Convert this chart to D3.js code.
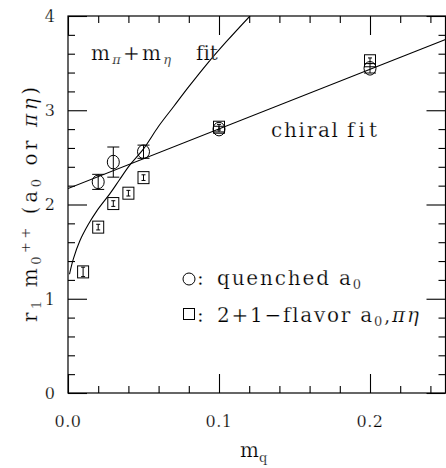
<!DOCTYPE html>
<html>
<head>
<meta charset="utf-8">
<script src="https://cdn.jsdelivr.net/npm/d3@7"></script>
<style>
html,body{margin:0;padding:0;background:#fff;}
svg{display:block;}
text{font-family:"DejaVu Serif",serif;fill:#000;stroke:#fff;stroke-width:0.25px;font-variant-ligatures:none;}
.gr{font-style:italic;}
</style>
</head>
<body>
<div id="chart"></div>
<script>
// ---- data ----
const quenchedX   = [0.02, 0.03, 0.05, 0.10, 0.20];
const quenchedY   = [2.24, 2.45, 2.56, 2.80, 3.445];
const quenchedErr = [0.08, 0.16, 0.07, 0.03, 0.05];

const flavorX   = [0.01, 0.02, 0.03, 0.04, 0.05, 0.10, 0.20];
const flavorY   = [1.285, 1.76, 2.01, 2.12, 2.285, 2.82, 3.525];
const flavorErr = [0.05, 0.03, 0.03, 0.03, 0.03, 0.03, 0.03];

const chiralFitX = [0.0, 0.25];
const chiralFitY = [2.17, 3.75];

const mesonFitX = [0.001, 0.0035, 0.008, 0.0135, 0.019, 0.028, 0.034, 0.041, 0.05, 0.06, 0.07, 0.08, 0.092, 0.105, 0.1205];
const mesonFitY = [1.26, 1.42, 1.62, 1.79, 1.93, 2.12, 2.26, 2.42, 2.59, 2.83, 3.04, 3.25, 3.49, 3.73, 4.0];

const xTickLabels = ["0.0", "0.1", "0.2"];
const xTickValues = [0, 0.1, 0.2];
const yTickValues = [0, 1, 2, 3, 4];

// ---- layout ----
const W = 446, H = 468;
const L = 68, R = 445.5, T = 16, B = 393;

const x = d3.scaleLinear().domain([0, 0.25]).range([L, R]);
const y = d3.scaleLinear().domain([0, 4]).range([B, T]);

const svg = d3.select("#chart").append("svg").attr("width", W).attr("height", H);

svg.append("defs").append("clipPath").attr("id", "clip")
  .append("rect").attr("x", L).attr("y", T).attr("width", R - L).attr("height", B - T);

svg.append("rect").attr("x", L).attr("y", T).attr("width", R - L).attr("height", B - T)
  .attr("fill", "none").attr("stroke", "#000").attr("stroke-width", 1.2);

const majorLen = 19, minorLen = 7;
const xMinor = d3.range(0, 0.2501, 0.02).filter(v => !xTickValues.some(m => Math.abs(m - v) < 1e-9));
const yMinor = d3.range(0, 4.001, 0.2).filter(v => !yTickValues.some(m => Math.abs(m - v) < 1e-9));

function addAxis(gen, tx, ty) {
  const g = svg.append("g").attr("transform", `translate(${tx},${ty})`).call(gen);
  g.select(".domain").remove();
  g.selectAll("line").attr("stroke", "#000").attr("stroke-width", 1.1);
  return g;
}
addAxis(d3.axisTop(x).tickValues(xTickValues).tickSize(majorLen).tickFormat(""), 0, B);
addAxis(d3.axisTop(x).tickValues(xMinor).tickSize(minorLen).tickFormat(""), 0, B);
addAxis(d3.axisBottom(x).tickValues(xTickValues).tickSize(majorLen).tickFormat(""), 0, T);
addAxis(d3.axisBottom(x).tickValues(xMinor).tickSize(minorLen).tickFormat(""), 0, T);
addAxis(d3.axisRight(y).tickValues(yTickValues).tickSize(majorLen).tickFormat(""), L, 0);
addAxis(d3.axisRight(y).tickValues(yMinor).tickSize(minorLen).tickFormat(""), L, 0);
addAxis(d3.axisLeft(y).tickValues(yTickValues).tickSize(majorLen).tickFormat(""), R, 0);
addAxis(d3.axisLeft(y).tickValues(yMinor).tickSize(minorLen).tickFormat(""), R, 0);

svg.selectAll(".xl").data(xTickValues).enter().append("text")
  .attr("x", d => x(d)).attr("y", 427).attr("text-anchor", "middle")
  .attr("font-size", 16).attr("letter-spacing", "0.5px").text((d, i) => xTickLabels[i]);
svg.selectAll(".yl").data(yTickValues).enter().append("text")
  .attr("x", 55).attr("y", d => y(d)).attr("dy", "0.36em").attr("text-anchor", "end")
  .attr("font-size", 16).text(d => d);

const plot = svg.append("g").attr("clip-path", "url(#clip)");

const chiral = chiralFitX.map((v, i) => [v, chiralFitY[i]]);
const meson = mesonFitX.map((v, i) => [v, mesonFitY[i]]);
const line = d3.line().x(d => x(d[0])).y(d => y(d[1]));
plot.append("path").datum(chiral).attr("d", line).attr("fill", "none").attr("stroke", "#000").attr("stroke-width", 1.1);
plot.append("path").datum(meson).attr("d", line.curve(d3.curveCatmullRom)).attr("fill", "none").attr("stroke", "#000").attr("stroke-width", 1.1);

const qData = quenchedX.map((v, i) => ({x: v, y: quenchedY[i], e: quenchedErr[i]}));
const qg = svg.append("g").attr("stroke", "#000").attr("fill", "none").attr("stroke-width", 1);
qData.forEach(d => {
  const cx = x(d.x), cy = y(d.y), y1 = y(d.y + d.e), y2 = y(d.y - d.e), cw = 6;
  qg.append("line").attr("x1", cx).attr("x2", cx).attr("y1", y1).attr("y2", y2);
  qg.append("line").attr("x1", cx - cw).attr("x2", cx + cw).attr("y1", y1).attr("y2", y1);
  qg.append("line").attr("x1", cx - cw).attr("x2", cx + cw).attr("y1", y2).attr("y2", y2);
  qg.append("ellipse").attr("cx", cx).attr("cy", cy).attr("rx", 6).attr("ry", 6.8);
});

const fData = flavorX.map((v, i) => ({x: v, y: flavorY[i], e: flavorErr[i]}));
const fg = svg.append("g").attr("stroke", "#000").attr("fill", "none").attr("stroke-width", 1);
fData.forEach(d => {
  const cx = x(d.x), cy = y(d.y), y1 = y(d.y + d.e), y2 = y(d.y - d.e), cw = 2;
  fg.append("rect").attr("x", cx - 5.5).attr("y", cy - 6).attr("width", 11).attr("height", 12);
  fg.append("line").attr("x1", cx).attr("x2", cx).attr("y1", y1).attr("y2", y2);
  fg.append("line").attr("x1", cx - cw).attr("x2", cx + cw).attr("y1", y1).attr("y2", y1);
  fg.append("line").attr("x1", cx - cw).attr("x2", cx + cw).attr("y1", y2).attr("y2", y2);
});

// annotation texts
const fs = 20, sfs = 13;
const t1 = svg.append("text").attr("x", 91).attr("y", 60).attr("font-size", fs)
  .attr("textLength", 80).attr("lengthAdjust", "spacing");
t1.append("tspan").text("m");
t1.append("tspan").attr("class", "gr").attr("font-size", sfs).attr("dy", 4).text("π");
t1.append("tspan").attr("dy", -4).text("+m");
t1.append("tspan").attr("class", "gr").attr("font-size", sfs).attr("dy", 4).text("η");
svg.append("text").attr("x", 196).attr("y", 60).attr("font-size", fs).text("fit");

svg.append("text").attr("x", 271).attr("y", 137).attr("font-size", fs)
  .attr("textLength", 67).attr("lengthAdjust", "spacing").text("chiral");
svg.append("text").attr("x", 347).attr("y", 137).attr("font-size", fs)
  .attr("textLength", 30).attr("lengthAdjust", "spacing").text("fit");

// legend
svg.append("ellipse").attr("cx", 189).attr("cy", 279).attr("rx", 6).attr("ry", 6)
  .attr("fill", "none").attr("stroke", "#000").attr("stroke-width", 1);
svg.append("rect").attr("x", 183.5).attr("y", 308.5).attr("width", 11).attr("height", 11)
  .attr("fill", "none").attr("stroke", "#000").attr("stroke-width", 1);

svg.append("text").attr("x", 197).attr("y", 285).attr("font-size", fs).text(":");
svg.append("text").attr("x", 197).attr("y", 322).attr("font-size", fs).text(":");

const l1 = svg.append("text").attr("x", 217).attr("y", 285).attr("font-size", fs)
  .attr("textLength", 144).attr("lengthAdjust", "spacing");
l1.append("tspan").text("quenched a");
l1.append("tspan").attr("font-size", sfs).attr("dy", 4).text("0");

const l2 = svg.append("text").attr("x", 217).attr("y", 322).attr("font-size", fs)
  .attr("textLength", 202).attr("lengthAdjust", "spacing");
l2.append("tspan").text("2+1−flavor a");
l2.append("tspan").attr("font-size", sfs).attr("dy", 4).text("0");
l2.append("tspan").attr("dy", -4).text(",");
l2.append("tspan").attr("class", "gr").text("πη");

// x axis label
const xl = svg.append("text").attr("x", 240).attr("y", 457).attr("font-size", fs);
xl.append("tspan").text("m");
xl.append("tspan").attr("font-size", sfs).attr("dy", 5).text("q");

// y axis label
const yl = svg.append("text").attr("transform", "translate(37,322) rotate(-90)")
  .attr("font-size", fs).attr("textLength", 235).attr("lengthAdjust", "spacing");
yl.append("tspan").text("r");
yl.append("tspan").attr("font-size", sfs).attr("dy", 4).text("1");
yl.append("tspan").attr("dy", -4).text(" m");
yl.append("tspan").attr("font-size", sfs).attr("dy", 4).text("0");
yl.append("tspan").attr("font-size", sfs).attr("dy", -11).text("++");
yl.append("tspan").attr("dy", 7).text(" (a");
yl.append("tspan").attr("font-size", sfs).attr("dy", 4).text("0");
yl.append("tspan").attr("dy", -4).text(" or ");
yl.append("tspan").attr("class", "gr").text("πη");
yl.append("tspan").text(")");
</script>
</body>
</html>
